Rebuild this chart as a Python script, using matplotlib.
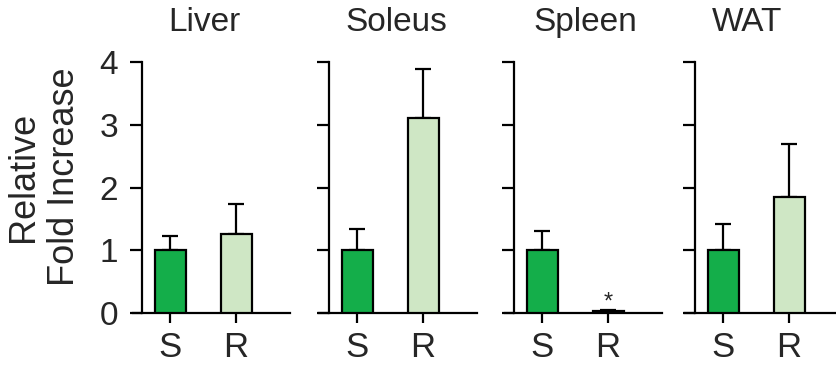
import matplotlib.pyplot as plt

plt.rcParams['font.family'] = ['Liberation Sans', 'DejaVu Sans']

# data
tissues = ['Liver', 'Soleus', 'Spleen', 'WAT']
groups = ['S', 'R']
means = [[1.0, 1.26], [1.0, 3.11], [1.0, 0.03], [1.0, 1.85]]
errors = [[0.23, 0.48], [0.34, 0.78], [0.31, 0.02], [0.42, 0.84]]
stars = [None, None, '*', None]
yticks = [0, 1, 2, 3, 4]

colors = ['#14ae4a', '#cfe7c5']
text_color = '#262626'

fig = plt.figure(figsize=(8.37, 3.65), dpi=100)
W, H = 837, 365
px_per_unit = 66
xmin, xmax = -0.57, 1.82
lefts = [132.5, 319.5, 504.5, 685.5]
title_x = [0.52, 0.59, 0.65, 0.36]  # title centre, in bar units

for i, name in enumerate(tissues):
    left = lefts[i]
    width = (xmax - xmin) * px_per_unit
    ax = fig.add_axes([left / W, 52 / H, width / W, 251 / H])
    ax.tick_params(axis='y', length=9, width=1.6, pad=8, labelsize=24,
                   labelcolor=text_color, labelleft=(i == 0))
    ax.tick_params(axis='x', length=7, width=1.6, pad=6, labelsize=25,
                   labelcolor=text_color)
    x = range(len(groups))
    ax.bar(x, means[i], width=0.47, color=colors, edgecolor='black',
           linewidth=1.6, zorder=3)
    ax.errorbar(x, means[i], yerr=[[0] * len(groups), errors[i]], fmt='none',
                ecolor='black', elinewidth=1.6, capsize=6, capthick=1.6,
                zorder=2, clip_on=False)
    if stars[i]:
        ax.text(1, means[i][1] + errors[i][1] - 0.06, stars[i], ha='center',
                va='bottom', fontsize=17, color=text_color)
    ax.set_xlim(xmin, xmax)
    ax.set_ylim(0, 4)
    ax.set_xticks(list(x))
    ax.set_xticklabels(groups)
    ax.set_yticks(yticks)
    for side in ['top', 'right']:
        ax.spines[side].set_visible(False)
    ax.spines['left'].set_position(('data', -0.43))
    ax.spines['left'].set_linewidth(1.6)
    ax.spines['bottom'].set_linewidth(1.6)
    ax.patch.set_alpha(0)
    ax.text(title_x[i], 1.095, name, transform=ax.get_xaxis_transform(),
            ha='center', va='bottom', fontsize=24, color=text_color)

fig.text(44 / W, 1 - 177 / H, 'Relative\nFold Increase', rotation=90,
         ha='center', va='center', fontsize=26, color=text_color,
         linespacing=1.2)

fig.savefig('out.png', dpi=100)
